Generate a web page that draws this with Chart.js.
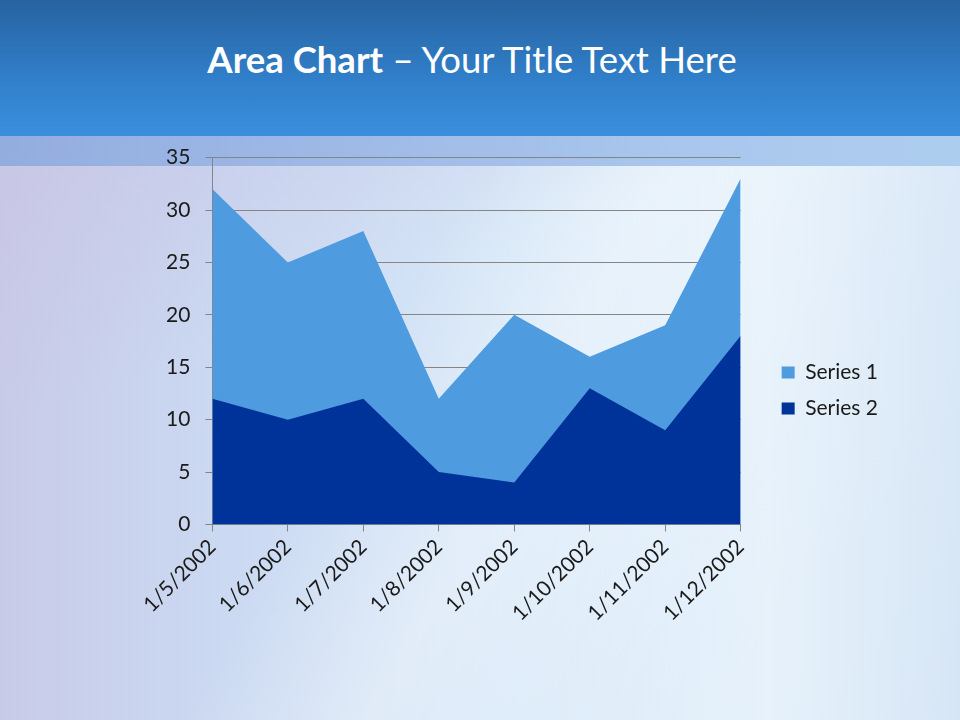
<!DOCTYPE html>
<html>
<head>
<meta charset="utf-8">
<script src="https://cdn.jsdelivr.net/npm/chart.js@4"></script>
<style>
  html, body { margin: 0; padding: 0; }
  body { width: 960px; height: 720px; overflow: hidden; position: relative; font-family: Lato, "Open Sans", sans-serif;
    background:
      linear-gradient(118deg, rgba(255,255,255,0) 0%, rgba(255,255,255,0) 42%, rgba(255,255,255,0.35) 56%, rgba(255,255,255,0.12) 75%, rgba(255,255,255,0) 100%),
      linear-gradient(160deg, rgba(200,196,228,0.9) 0%, rgba(200,200,230,0.0) 40%),
      linear-gradient(90deg, #c8cbe7 0%, #cbdaf2 25%, #d7e8f8 55%, #e4f0fa 80%, #d6e6f6 100%);
  }
  #header { position: absolute; left: 0; top: 0; width: 960px; height: 136px;
    background: linear-gradient(to bottom, #2763a0 0%, #3180cb 60%, #3a8fdc 100%); }
  #band { position: absolute; left: 0; top: 136px; width: 960px; height: 30px;
    background: linear-gradient(90deg, #8eaade 0%, #9dbbe8 50%, #a8caee 100%); opacity: 0.9; }
  #title { position: absolute; left: 0; top: 37px; width: 944px; text-align: center; color: #fff;
    font-size: 36.5px; white-space: nowrap; font-family: Lato, sans-serif; }
  #title b { font-weight: 700; }
  #wrap { position: absolute; left: 0; top: 130px; width: 960px; height: 517px; }
</style>
</head>
<body>
<div id="header"></div>
<div id="band"></div>
<div id="title"><b>Area Chart</b> – Your Title Text Here</div>
<div id="wrap"><canvas id="c"></canvas></div>
<script>
const categories = ["1/5/2002", "1/6/2002", "1/7/2002", "1/8/2002", "1/9/2002", "1/10/2002", "1/11/2002", "1/12/2002"];
const series1 = [32, 25, 28, 12, 20, 16, 19, 33];
const series2 = [12, 10, 12, 5, 4, 13, 9, 18];
const yTicks = [0, 5, 10, 15, 20, 25, 30, 35];

const gridGray = '#858585';
const textColor = '#1a1a1a';
const font = { family: 'Lato, sans-serif', size: 21 };

new Chart(document.getElementById('c'), {
  type: 'line',
  data: {
    labels: categories,
    datasets: [
      { label: 'Series 1', data: series1, backgroundColor: '#4f9bdf', borderWidth: 0, pointRadius: 0, fill: 'origin', order: 1 },
      { label: 'Series 2', data: series2, backgroundColor: '#003399', borderWidth: 0, pointRadius: 0, fill: 'origin', order: 0 }
    ]
  },
  options: {
    responsive: true,
    maintainAspectRatio: false,
    animation: false,
    layout: { padding: { left: 151, right: 72, top: 6, bottom: 2 } },
    plugins: {
      tooltip: { enabled: false },
      legend: {
        position: 'right',
        labels: {
          boxWidth: 13, boxHeight: 12, padding: 15, color: textColor, font: font,
          generateLabels: (chart) => Chart.defaults.plugins.legend.labels.generateLabels(chart)
            .sort((a, b) => a.datasetIndex - b.datasetIndex)
        }
      }
    },
    scales: {
      x: {
        offset: false,
        grid: { drawOnChartArea: false, drawTicks: true, tickLength: 7, color: gridGray },
        border: { color: gridGray },
        ticks: { color: textColor, font: font, minRotation: 45, maxRotation: 45, padding: 3, autoSkip: false },
        afterFit: (axis) => { axis.height += 16; }
      },
      y: {
        min: 0, max: 35,
        afterBuildTicks: (axis) => { axis.ticks = yTicks.map(v => ({ value: v })); },
        grid: { color: gridGray, tickLength: 7 },
        border: { color: gridGray },
        ticks: { color: textColor, font: font, padding: 15 }
      },
      gap: {
        type: 'linear', position: 'right', display: true,
        grid: { display: false }, border: { display: false }, ticks: { display: false },
        afterFit: (axis) => { axis.width = 26; }
      }
    }
  }
});
</script>
</body>
</html>
